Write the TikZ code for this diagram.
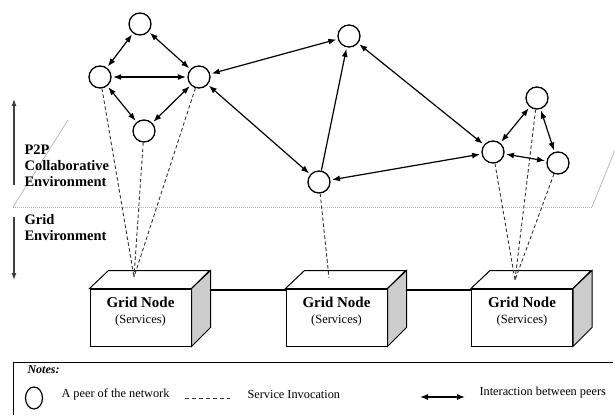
\documentclass[tikz,border=0pt]{standalone}
\usepackage{fontspec}
\setmainfont{Liberation Serif}
\usetikzlibrary{arrows.meta,calc,shapes.geometric}
\definecolor{sidegray}{gray}{0.8}
\tikzset{
  peer/.style={circle, draw, line width=1.3pt, minimum size=22pt, inner sep=0pt, fill=white},
  inter/.style={{Latex[length=8pt,width=6pt]}-{Latex[length=8pt,width=6pt]}, line width=1.2pt, shorten <=1.5pt, shorten >=1.5pt},
  oneway/.style={-{Latex[length=8pt,width=6pt]}, line width=1.2pt, shorten >=1.5pt},
  service/.style={dash pattern=on 3.5pt off 2.5pt, line width=0.9pt, black!80},
  gridbox/.style={draw, line width=1pt, fill=white, minimum width=101pt, minimum height=57pt, inner sep=0pt},
  gridlabel/.style={align=center, font=\fontsize{12.5}{16}\selectfont},
  envlabel/.style={align=left, anchor=north west, font=\bfseries\fontsize{14.5}{16}\selectfont},
  envarrow/.style={-{Latex[length=7pt,width=5pt]}, line width=1.1pt, black!75},
  plane/.style={gray!60, line width=0.7pt},
  legend/.style={anchor=west, font=\fontsize{12.3}{14}\selectfont},
}
\begin{document}
\begin{tikzpicture}[x=1pt,y=-1pt]
    \useasboundingbox (0,0) rectangle (615,415);

    % Plano P2P / Grid
    \draw[plane, dash pattern=on 1pt off 1pt] (13,207) -- (592,207);
    \draw[plane] (13,207) -- (68,120);
    \draw[plane] (592,207) -- (615,150);
    \draw[envarrow] (14,185) -- (14,99);
    \draw[envarrow] (14,217) -- (14,280);
    \node[envlabel] (p2plbl) at (21,141) {P2P\\Collaborative\\Environment};
    \node[envlabel] (gridlbl) at (21,211) {Grid\\Environment};

    % Grid nodes
    \foreach \i/\x in {1/140.5,2/336.5,3/522}{
        \node[gridbox] (g\i) at (\x,317.5) {};
        \draw[line width=1pt, fill=white] (g\i.north west) -- ++(19,-18) -- ++(101,0) -- (g\i.north east) -- cycle;
        \draw[line width=1pt, fill=sidegray] (g\i.north east) -- ++(19,-18) -- ++(0,57) -- (g\i.south east) -- cycle;
        \node[gridlabel] (gl\i) at ([yshift=6pt]g\i.center) {\textbf{\fontsize{15}{16}\selectfont Grid Node}\\(Services)};
    }
    \draw[line width=2pt] ($(g1.north east)+(18,1)$) -- ($(g2.north west)+(0,1)$);
    \draw[line width=2pt] ($(g2.north east)+(18,1)$) -- ($(g3.north west)+(0,1)$);

    % Peers
    \node[peer] (p1) at (140,24) {};
    \node[peer] (p2) at (100,77) {};
    \node[peer] (p3) at (199,77) {};
    \node[peer] (p4) at (144,131) {};
    \node[peer] (p5) at (349,36) {};
    \node[peer] (p6) at (319,182) {};
    \node[peer] (p7) at (493,152) {};
    \node[peer] (p8) at (537,98) {};
    \node[peer] (p9) at (558,163) {};

    % Service invocation
    \coordinate (s1) at (134,277);
    \coordinate (s2) at (329,278);
    \coordinate (s3) at (515,280);
    \foreach \u in {p2,p3,p4} \draw[service] (\u) -- (s1);
    \draw[service] (p6) -- (s2);
    \foreach \u in {p7,p8,p9} \draw[service] (\u) -- (s3);

    % Interaction between peers
    \foreach \u/\v in {p1/p2,p1/p3,p2/p3,p2/p4,p3/p4,p3/p5,p3/p6,p5/p7,p6/p7,p7/p8,p7/p9,p8/p9}
        \draw[inter] (\u) -- (\v);
    \draw[oneway] (p6) -- (p5);

    % Notes
    \draw[line width=1pt] (613,362) -- (13,362) -- (13,415);
    \node[anchor=west, font=\bfseries\itshape\fontsize{12}{14}\selectfont] (notes) at (24,370) {Notes:};
    \node[draw, ellipse, line width=1.2pt, minimum width=17pt, minimum height=22pt, inner sep=0pt] (lpeer) at (34,398) {};
    \node[legend] (lpeertxt) at (58,394) {A peer of the network};
    \coordinate (ls1) at (185,398);
    \coordinate (ls2) at (230,398);
    \draw[service, dash pattern=on 4pt off 3pt] (ls1) -- (ls2);
    \node[legend] (lsvc) at (244,394) {Service Invocation};
    \coordinate (li1) at (420,397);
    \coordinate (li2) at (465,397);
    \draw[inter, shorten <=0pt, shorten >=0pt] (li1) -- (li2);
    \node[legend] (lint) at (476,393) {Interaction between peers};
\end{tikzpicture}
\end{document}
